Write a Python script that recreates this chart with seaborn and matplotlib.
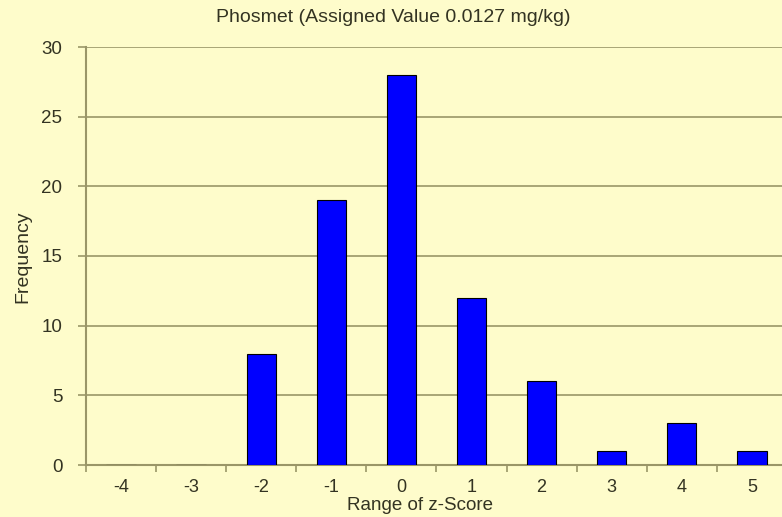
import matplotlib
matplotlib.use("Agg")
import matplotlib.pyplot as plt
import seaborn as sns
import pandas as pd
from matplotlib.ticker import FixedLocator

categories = ["-4", "-3", "-2", "-1", "0", "1", "2", "3", "4", "5"]
frequency = [0, 0, 8, 19, 28, 12, 6, 1, 3, 1]
title = "Phosmet (Assigned Value 0.0127 mg/kg)"

sns.set_theme(style="white")
plt.rcParams["font.family"] = ["Liberation Sans", "DejaVu Sans"]

bg = "#FEFCCB"
grid_c = "#9A9668"
text_c = "#333322"

df = pd.DataFrame({"z": categories, "freq": frequency})

fig = plt.figure(figsize=(7.82, 5.17), dpi=100, facecolor=bg)
ax = fig.add_axes([86/782, 1-465/517, 1-86/782, (465-47)/517])
ax.set_facecolor(bg)

sns.barplot(data=df, x="z", y="freq", order=categories, color="#0000FF",
            saturation=1, width=0.42, edgecolor="black", linewidth=0.8, ax=ax, zorder=3)

ax.set_xlim(-0.5, 9.43)
ax.set_ylim(0, 30)
ax.set_yticks(range(0, 31, 5))
ax.yaxis.grid(True, color=grid_c, linewidth=1.2)
ax.set_axisbelow(True)
for s in ["top", "right"]:
    ax.spines[s].set_visible(False)
for s in ["left", "bottom"]:
    ax.spines[s].set_color(grid_c)
    ax.spines[s].set_linewidth(1.5)

ax.xaxis.set_minor_locator(FixedLocator([i - 0.5 for i in range(len(categories) + 1)]))
ax.tick_params(axis="x", which="major", length=0, pad=16.5, labelsize=13, labelcolor=text_c)
for lbl in ax.get_xticklabels():
    lbl.set_va("center")
ax.tick_params(axis="x", which="minor", length=5, width=1.2, color=grid_c, direction="out", bottom=True)
ax.tick_params(axis="y", length=6, width=1.2, color=grid_c, direction="out", left=True, labelsize=13.5, labelcolor=text_c, pad=11)

ax.set_xlabel("")
ax.set_ylabel("")
fig.text(420/782, 1-506/517, "Range of z-Score", ha="center", va="center", fontsize=13.5, color=text_c)
fig.text(23/782, 1-257/517, "Frequency", ha="center", va="center", rotation=90, fontsize=14, color=text_c)
fig.text(393/782, 1-18/517, title, ha="center", va="center", fontsize=14, color=text_c)

fig.savefig("out.png", dpi=100, facecolor=bg)
